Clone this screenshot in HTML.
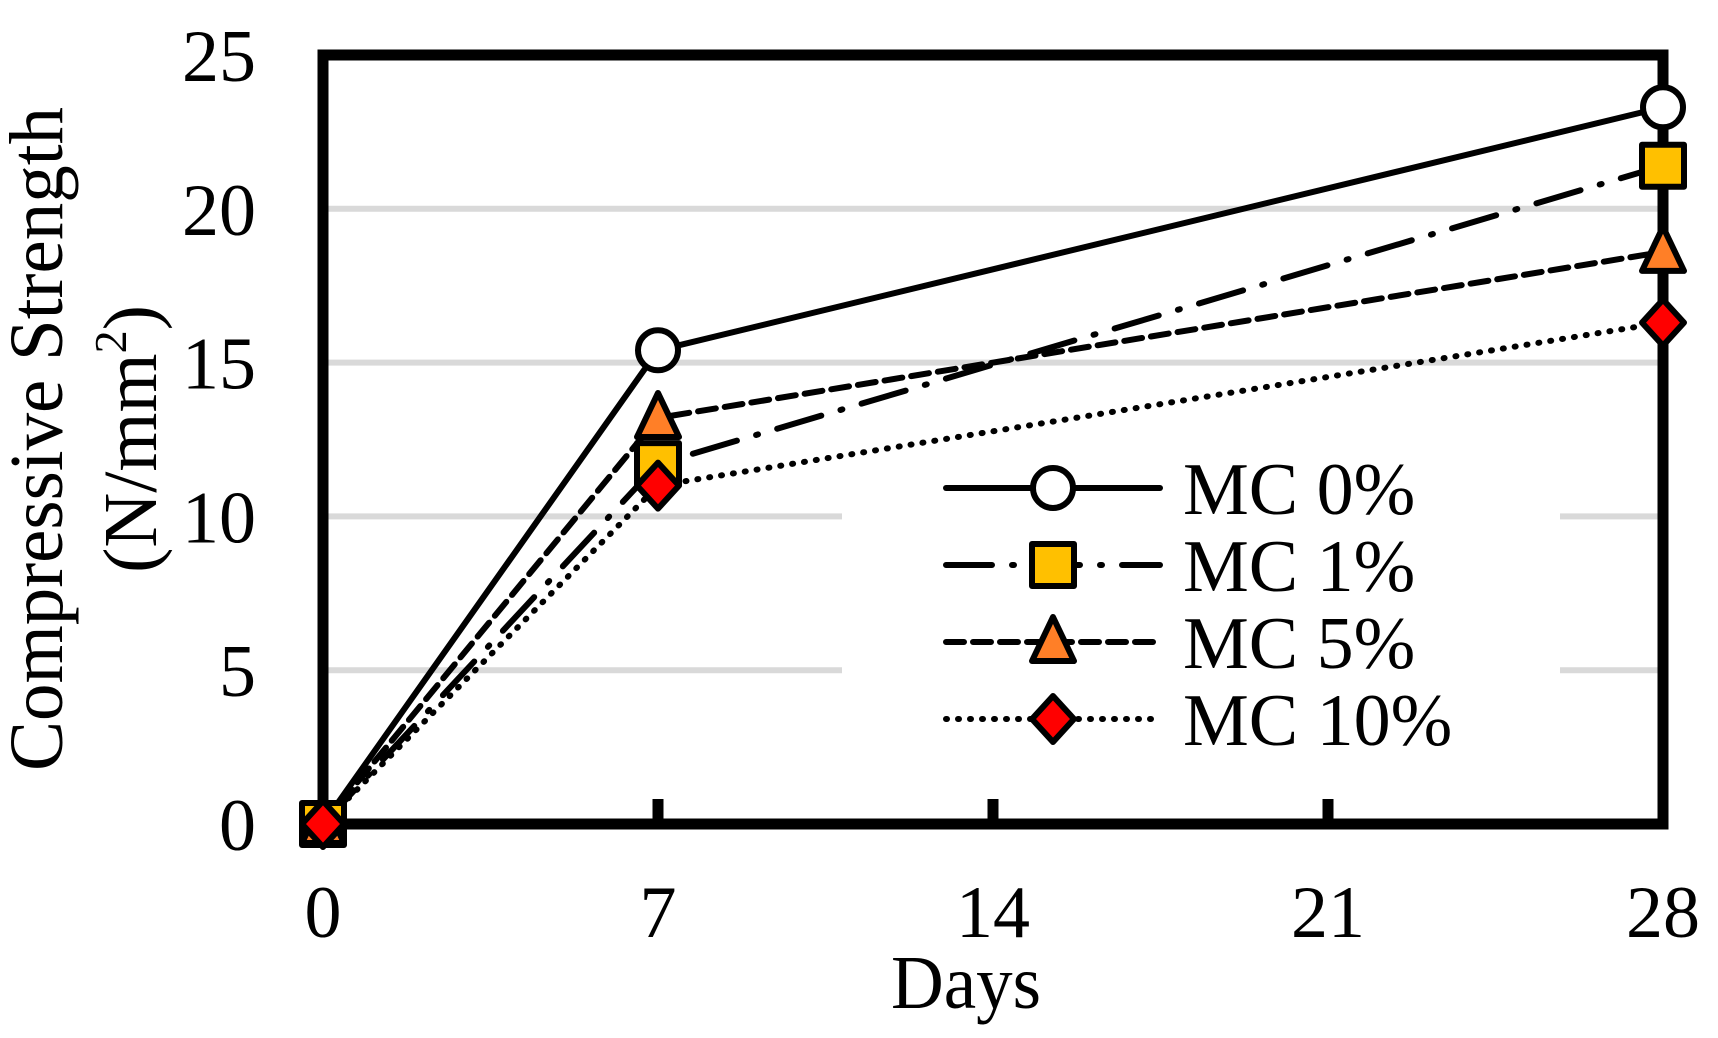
<!DOCTYPE html>
<html><head><meta charset="utf-8"><style>
html,body{margin:0;padding:0;background:#fff;}
svg{display:block;}
text{font-family:"Liberation Serif",serif;fill:#000;}
</style></head><body>
<svg id="chart" width="1718" height="1038" viewBox="0 0 1718 1038" xmlns="http://www.w3.org/2000/svg">
<g id="grid"></g>
<g id="legendbg"></g>
<g id="series"></g>
<g id="axes"></g>
<g id="markers"></g>
<g id="labels"></g>
<text x="966" y="1008" font-size="76" text-anchor="middle" textLength="150" lengthAdjust="spacingAndGlyphs">Days</text>
<text transform="translate(62,439) rotate(-90)" font-size="76" text-anchor="middle" textLength="664" lengthAdjust="spacingAndGlyphs">Compressive Strength</text>
<text transform="translate(156,439) rotate(-90)" font-size="76" text-anchor="middle">(N/mm<tspan font-size="46" dy="-30">2</tspan><tspan dy="30">)</tspan></text>
<g id="legend"></g>
</svg>
<script>
const days = [0, 7, 28];
const xTicks = [0, 7, 14, 21, 28];
const yTicks = [0, 5, 10, 15, 20, 25];
const seriesNames = ["MC 0%", "MC 1%", "MC 5%", "MC 10%"];
const mc0 = [0, 15.4, 23.3];
const mc1 = [0, 11.7, 21.4];
const mc5 = [0, 13.2, 18.6];
const mc10 = [0, 11.0, 16.3];

const NS = "http://www.w3.org/2000/svg";
const X0 = 323, X1 = 1663, Y0 = 824, Y1 = 55;
const xs = d => X0 + (d - 0) / 28 * (X1 - X0);
const ys = v => Y0 - v / 25 * (Y0 - Y1);
function mk(tag, attrs, parent) {
  const e = document.createElementNS(NS, tag);
  for (const k in attrs) e.setAttribute(k, attrs[k]);
  parent.appendChild(e);
  return e;
}
const grid = document.getElementById('grid');
yTicks.forEach(t => {
  if (t === 0 || t === 25) return;
  const l = mk('line', {x1: X0, x2: X1, y1: ys(t), y2: ys(t), stroke: '#d9d9d9', 'stroke-width': 6}, grid);
  
  
});
const lb = mk('rect', {x: 842, y: 446, width: 718, height: 340, fill: '#fff'}, document.getElementById('legendbg'));



const styles = [
  {dash: '', fill: '#fff', shape: 'circle'},
  {dash: '46 20 2 20', fill: '#ffc000', shape: 'square'},
  {dash: '18 9', fill: '#ff7f27', shape: 'triangle'},
  {dash: '1 11', fill: '#ff0000', shape: 'diamond'}
];
const allSeries = [mc0, mc1, mc5, mc10];
const sg = document.getElementById('series');
const mg = document.getElementById('markers');
function marker(shape, cx, cy, fill, parent) {
  let e;
  if (shape === 'circle') e = mk('circle', {cx, cy, r: 20}, parent);
  else if (shape === 'square') e = mk('rect', {x: cx - 21, y: cy - 21, width: 42, height: 42}, parent);
  else if (shape === 'triangle') e = mk('polygon', {points: `${cx},${cy-25} ${cx+21},${cy+19} ${cx-21},${cy+19}`}, parent);
  else e = mk('polygon', {points: `${cx},${cy-23} ${cx+21},${cy} ${cx},${cy+23} ${cx-21},${cy}`}, parent);
  e.setAttribute('fill', fill);
  e.setAttribute('stroke', '#000');
  e.setAttribute('stroke-width', 6);
  e.setAttribute('stroke-linejoin', 'round');
  return e;
}
allSeries.forEach((vals, i) => {
  const st = styles[i];
  const pts = vals.map((v, j) => xs(days[j]) + ',' + ys(v)).join(' ');
  const pl = mk('polyline', {points: pts, fill: 'none', stroke: '#000', 'stroke-width': 6, 'stroke-linecap': 'round', 'stroke-linejoin': 'round'}, sg);
  if (st.dash) pl.setAttribute('stroke-dasharray', st.dash);
  
  
});
const ax = document.getElementById('axes');
const frame = mk('rect', {x: X0, y: Y1, width: X1 - X0, height: Y0 - Y1, fill: 'none', stroke: '#000', 'stroke-width': 11}, ax);


xTicks.forEach(t => {
  if (t === 0 || t === 28) return;
  const tk = mk('line', {x1: xs(t), x2: xs(t), y1: Y0, y2: Y0 - 25, stroke: '#000', 'stroke-width': 11}, ax);
  
  
});
allSeries.forEach((vals, i) => {
  vals.forEach((v, j) => {
    const m = marker(styles[i].shape, xs(days[j]), ys(v), styles[i].fill, mg);
    
    
  });
});
const lab = document.getElementById('labels');
yTicks.forEach(t => {
  const tx = mk('text', {x: 256, y: ys(t) + 26, 'font-size': 74, 'text-anchor': 'end'}, lab);
  tx.textContent = t;
  
  
});
xTicks.forEach(t => {
  const tx = mk('text', {x: xs(t), y: 937, 'font-size': 74, 'text-anchor': 'middle'}, lab);
  tx.textContent = t;
  
  
});
const lg = document.getElementById('legend');
const rowsY = [488, 565, 642, 719];
seriesNames.forEach((n, i) => {
  const g = mk('g', {}, lg);
  
  
  const ln = mk('line', {x1: 946, x2: 1160, y1: rowsY[i], y2: rowsY[i], stroke: '#000', 'stroke-width': 6, 'stroke-linecap': 'round'}, g);
  if (styles[i].dash) ln.setAttribute('stroke-dasharray', styles[i].dash);
  marker(styles[i].shape, 1053, rowsY[i], styles[i].fill, g);
  const tx = mk('text', {x: 1183, y: rowsY[i] + 26, 'font-size': 74}, g);
  tx.textContent = n;
});
</script>
</body></html>
